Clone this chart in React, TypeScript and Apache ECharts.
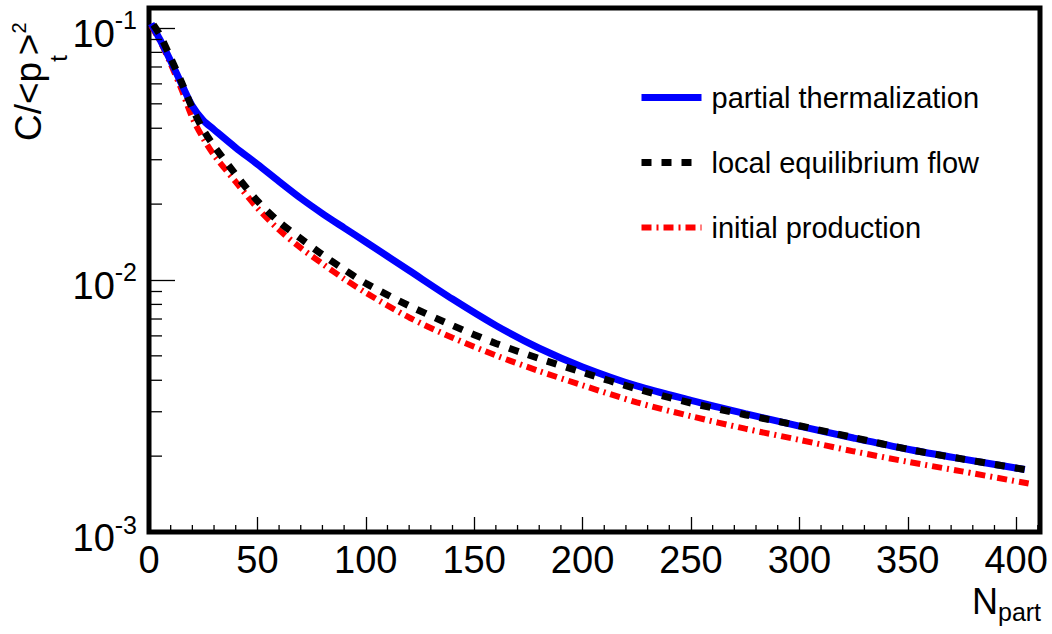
import React, { useEffect, useRef } from 'react';
import * as echarts from 'echarts';

// ---- data ----
const nPartial = [1, 5, 10, 15, 20, 25, 30, 40, 50, 60, 70, 80, 90, 100, 120, 140, 160, 180, 200, 225, 250, 275, 300, 325, 350, 375, 404];
const cPartial = [0.104, 0.09, 0.074, 0.06, 0.049, 0.043, 0.0395, 0.0335, 0.0288, 0.0246, 0.0211, 0.01835, 0.0161, 0.01415, 0.0109, 0.0084, 0.0066, 0.00536, 0.00452, 0.0038, 0.00333, 0.00295, 0.00263, 0.00236, 0.00213, 0.00195, 0.00177];

const nLocal = [2, 5, 10, 15, 20, 25, 30, 40, 50, 60, 70, 80, 90, 100, 120, 140, 160, 180, 200, 225, 250, 275, 300, 325, 350, 375, 404];
const cLocal = [0.103, 0.094, 0.076, 0.061, 0.048, 0.0395, 0.034, 0.0262, 0.0206, 0.017, 0.0146, 0.0126, 0.011, 0.0097, 0.0079, 0.0066, 0.0056, 0.00488, 0.0043, 0.0037, 0.00325, 0.00292, 0.00264, 0.00237, 0.00213, 0.00195, 0.00177];

const nInitial = [1, 5, 10, 15, 20, 25, 30, 40, 50, 60, 70, 80, 90, 100, 120, 140, 160, 180, 200, 225, 250, 275, 300, 325, 350, 375, 407];
const cInitial = [0.102, 0.089, 0.072, 0.057, 0.044, 0.0365, 0.0313, 0.0245, 0.0193, 0.0158, 0.0134, 0.0116, 0.0101, 0.0089, 0.0071, 0.0059, 0.00502, 0.00435, 0.00382, 0.00327, 0.00288, 0.00257, 0.00232, 0.00209, 0.0019, 0.00174, 0.00155];

const seriesNames = ['partial thermalization', 'local equilibrium flow', 'initial production'];

const xMin = 0;
const xMax = 411;
const xInterval = 50;
const yMin = 0.001;
const yMax = 0.12;
const xMinorTicks = [10, 20, 30, 40, 60, 70, 80, 90, 110, 120, 130, 140, 160, 170, 180, 190, 210, 220, 230, 240, 260, 270, 280, 290, 310, 320, 330, 340, 360, 370, 380, 390, 410];
const yMinorTicks = [0.002, 0.003, 0.004, 0.005, 0.006, 0.007, 0.008, 0.009, 0.02, 0.03, 0.04, 0.05, 0.06, 0.07, 0.08, 0.09];

const FONT = '"Liberation Sans", Arial, Helvetica, sans-serif';

const zip = (xs: number[], ys: number[]) => xs.map((x, i) => [x, ys[i]]);

export default function App() {
  const ref = useRef<HTMLDivElement>(null);

  useEffect(() => {
    if (!ref.current) return;
    const chart = echarts.init(ref.current, undefined, { renderer: 'svg' });

    const blueStyle = { color: '#0000ff', width: 7, type: 'solid' as const, cap: 'butt' as const };
    const blackStyle = { color: '#000000', width: 7, type: [10, 10], cap: 'butt' as const };
    const redStyle = { color: '#ff0000', width: 6, type: [10, 5, 2, 5], cap: 'butt' as const };
    const hiddenSymbol = { color: 'transparent', borderWidth: 0, opacity: 0 };

    const option: any = {
      animation: false,
      backgroundColor: '#ffffff',
      grid: {
        left: 149,
        right: 12,
        top: 8,
        bottom: 102,
        show: true,
        borderColor: '#000',
        borderWidth: 5,
        backgroundColor: 'transparent',
      },
      xAxis: {
        type: 'value',
        min: xMin,
        max: xMax,
        interval: xInterval,
        axisLine: { show: false },
        splitLine: { show: false },
        axisTick: { show: true, inside: true, length: 15, lineStyle: { color: '#000', width: 1.3 } },
        axisLabel: {
          fontSize: 38,
          color: '#000',
          fontFamily: FONT,
          margin: 9,
          formatter: (v: number) => (Math.abs(v % 50) < 1e-9 ? String(v) : ''),
        },
      },
      yAxis: {
        type: 'log',
        logBase: 10,
        min: yMin,
        max: yMax,
        axisLine: { show: false },
        splitLine: { show: false },
        axisTick: { show: true, inside: true, length: 26, lineStyle: { color: '#000', width: 1.3 } },
        axisLabel: {
          margin: 12,
          color: '#000',
          fontFamily: FONT,
          formatter: (v: number) => {
            const e = Math.log10(v);
            if (Math.abs(e - Math.round(e)) > 1e-6) return '';
            return `{b|10}{e|${Math.round(e)}}`;
          },
          rich: {
            b: { fontSize: 38, fontFamily: FONT, color: '#000', padding: [12, 0, 0, 0], verticalAlign: 'middle' },
            e: { fontSize: 25, fontFamily: FONT, color: '#000', padding: [0, 0, 15, 0], verticalAlign: 'middle' },
          },
        },
      },
      legend: {
        orient: 'vertical',
        left: 633,
        top: 78,
        itemWidth: 60,
        itemHeight: 28,
        itemGap: 36,
        selectedMode: false,
        itemStyle: hiddenSymbol,
        textStyle: { fontSize: 29, fontFamily: FONT, color: '#000', padding: [0, 0, 0, 5] },
        data: [
          { name: seriesNames[0], itemStyle: hiddenSymbol, lineStyle: { width: 7, type: 'solid', color: '#0000ff', opacity: 1 } },
          { name: seriesNames[1], itemStyle: hiddenSymbol, lineStyle: { width: 7, type: [10, 10], color: '#000', opacity: 1 } },
          { name: seriesNames[2], itemStyle: hiddenSymbol, lineStyle: { width: 6, type: [10, 5, 2, 5], color: '#ff0000', opacity: 1 } },
        ],
      },
      graphic: [
        {
          type: 'text',
          x: 972,
          y: 601,
          style: {
            text: '{n|N}{s|part}',
            align: 'left',
            verticalAlign: 'middle',
            textAlign: 'left',
            textVerticalAlign: 'middle',
            fill: '#000',
            rich: {
              n: { fontSize: 36, fontFamily: FONT, fill: '#000', color: '#000', verticalAlign: 'middle' },
              s: { fontSize: 25, fontFamily: FONT, fill: '#000', color: '#000', padding: [22, 0, 0, 0], verticalAlign: 'middle' },
            },
          },
        },
        {
          type: 'text',
          x: 28,
          y: 141,
          rotation: Math.PI / 2,
          style: {
            text: '{m|C/<p}{s|t}{m|>}{e|2}',
            align: 'left',
            verticalAlign: 'middle',
            textAlign: 'left',
            textVerticalAlign: 'middle',
            fill: '#000',
            rich: {
              m: { fontSize: 37, fontFamily: FONT, fill: '#000', color: '#000', verticalAlign: 'middle' },
              s: { fontSize: 24, fontFamily: FONT, fill: '#000', color: '#000', padding: [60, 0, 0, 0], verticalAlign: 'middle' },
              e: { fontSize: 20, fontFamily: FONT, fill: '#000', color: '#000', padding: [0, 0, 18, 0], verticalAlign: 'middle' },
            },
          },
        },
      ],
      series: [
        {
          type: 'line',
          name: seriesNames[2],
          data: zip(nInitial, cInitial),
          symbol: 'none',
          smooth: 0.3,
          lineStyle: redStyle,
          itemStyle: { color: '#ff0000' },
          z: 2,
        },
        {
          type: 'line',
          name: seriesNames[0],
          data: zip(nPartial, cPartial),
          symbol: 'none',
          smooth: 0.3,
          lineStyle: blueStyle,
          itemStyle: { color: '#0000ff' },
          z: 3,
        },
        {
          type: 'line',
          name: seriesNames[1],
          data: zip(nLocal, cLocal),
          symbol: 'none',
          smooth: 0.3,
          lineStyle: blackStyle,
          itemStyle: { color: '#000' },
          z: 4,
        },
        {
          type: 'custom',
          silent: true,
          z: 5,
          data: yMinorTicks.map((v) => [xMin, v]),
          renderItem: (_p: any, api: any) => {
            const p = api.coord([xMin, api.value(1)]);
            return {
              type: 'line',
              shape: { x1: p[0], y1: p[1], x2: p[0] + 13, y2: p[1] },
              style: { stroke: '#000', lineWidth: 1.3 },
            };
          },
        },
        {
          type: 'custom',
          silent: true,
          z: 5,
          data: xMinorTicks.map((v) => [v, yMin]),
          renderItem: (_p: any, api: any) => {
            const p = api.coord([api.value(0), yMin]);
            return {
              type: 'line',
              shape: { x1: p[0], y1: p[1], x2: p[0], y2: p[1] - 7 },
              style: { stroke: '#000', lineWidth: 1.3 },
            };
          },
        },
      ],
    };

    chart.setOption(option);
    return () => chart.dispose();
  }, []);

  return (
    <div
      ref={ref}
      style={{ position: 'fixed', left: 0, top: 0, width: 1052, height: 634, background: '#fff' }}
    />
  );
}
